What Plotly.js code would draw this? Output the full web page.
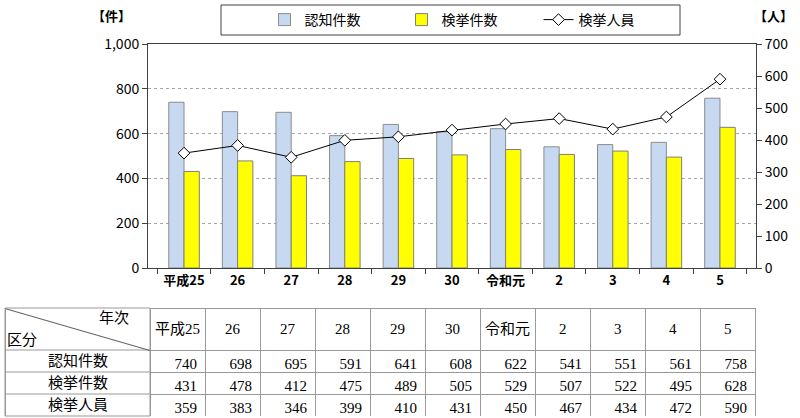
<!DOCTYPE html>
<html><head><meta charset="utf-8">
<script src="https://cdn.plot.ly/plotly-3.0.1.min.js"></script>
<style>html,body{margin:0;padding:0;background:#fff;overflow:hidden}#c{width:800px;height:418px}</style>
</head><body><div id="c"></div>
<script>
const categories = ["平成25","26","27","28","29","30","令和元","2","3","4","5"];
const ninchi = [740,698,695,591,641,608,622,541,551,561,758];
const kenkyoKen = [431,478,412,475,489,505,529,507,522,495,628];
const kenkyoJin = [359,383,346,399,410,431,450,467,434,472,590];
const rowLabels = ["認知件数","検挙件数","検挙人員"];

const W = 800, H = 418;
const mL = 5, mR = 44, mT = 44, mB = 1;
const pw = W - mL - mR, ph = H - mT - mB;
const px = x => (x - mL) / pw;
const py = y => (H - mB - y) / ph;

const font = "'Noto Sans CJK JP', 'Noto Sans', sans-serif";
const serif = "'Liberation Serif', 'Noto Sans CJK JP', serif";

const tblLeft = 5, firstW = 145, colW = 55, tblTop = 308, headH = 42, rowH = 22;
const dataLeft = tblLeft + firstW;
const tblBottom = tblTop + headH + rowH*rowLabels.length;
const lineCol = '#999';

const traces = [
  {type:'bar', name:'認知件数', x:categories, y:ninchi,
   marker:{color:'#C6D9F1', line:{color:'#8c8c8c', width:1}}},
  {type:'bar', name:'検挙件数', x:categories, y:kenkyoKen,
   marker:{color:'#FFFF00', line:{color:'#7f7f7f', width:1}}},
  {type:'scatter', mode:'lines+markers', name:'検挙人員', x:categories, y:kenkyoJin, yaxis:'y2',
   line:{color:'#000', width:1}, marker:{symbol:'diamond', size:9, color:'#fff', line:{color:'#000', width:1}}},
  {type:'table', domain:{x:[px(dataLeft), px(dataLeft + colW*categories.length)], y:[0, py(tblTop)]},
   columnwidth:categories.map(()=>colW),
   header:{values:categories.map(()=>""), height:headH, align:'center',
     line:{color:lineCol, width:1}, fill:{color:'#fff'},
     font:{family:serif, size:15, color:'#000'}},
   cells:{values:categories.map((c,i)=>[ninchi[i],kenkyoKen[i],kenkyoJin[i]]),
     height:rowH, align:'right',
     line:{color:lineCol, width:1}, fill:{color:'#fff'},
     font:{family:serif, size:15, color:'#000'}}}
];

const headerAnnots = categories.map((c,i)=>({
  text:c, xref:'paper', yref:'paper', x:px(dataLeft + colW*i + colW/2), y:py(tblTop + headH/2),
  xanchor:'center', yanchor:'middle', showarrow:false, font:{size:15, family:serif, color:'#000'}
}));
const rowAnnots = rowLabels.map((r,k)=>({
  text:r, xref:'paper', yref:'paper', x:px(tblLeft + firstW/2), y:py(tblTop + headH + rowH*k + rowH/2),
  xanchor:'center', yanchor:'middle', showarrow:false, font:{size:15, family:serif, color:'#000'}
}));

// corner-cell diagonal and left border, drawn as thin annotation boxes
const diagLen = Math.sqrt(firstW*firstW + headH*headH);
const diagAngle = Math.atan2(headH, firstW) * 180 / Math.PI;
const frameAnnots = [
  {text:' ', xref:'paper', yref:'paper', x:px(tblLeft + firstW/2), y:py(tblTop + headH/2),
   xanchor:'center', yanchor:'middle', showarrow:false, width:Math.round(diagLen), height:1,
   bgcolor:'#666', borderwidth:0, borderpad:0, textangle:diagAngle, font:{size:1}},
  {text:' ', xref:'paper', yref:'paper', x:px(tblLeft + 0.5), y:py((tblTop + tblBottom)/2),
   xanchor:'center', yanchor:'middle', showarrow:false, width:1, height:tblBottom - tblTop,
   bgcolor:lineCol, borderwidth:0, borderpad:0, font:{size:1}}
];

const firstColShapes = [
  {type:'rect', xref:'paper', yref:'paper', x0:px(tblLeft), x1:px(dataLeft), y0:py(tblTop), y1:py(tblBottom),
   line:{color:lineCol, width:1}, fillcolor:'rgba(0,0,0,0)'}
];
rowLabels.forEach((r,k) => {
  const yy = tblTop + headH + rowH*k;
  firstColShapes.push({type:'line', xref:'paper', yref:'paper',
    x0:px(tblLeft), x1:px(dataLeft), y0:py(yy), y1:py(yy), line:{color:lineCol, width:1}});
});

const layout = {
  width:W, height:H, margin:{l:mL, r:mR, t:mT, b:mB, autoexpand:false},
  paper_bgcolor:'#fff', plot_bgcolor:'rgba(0,0,0,0)',
  font:{family:font, color:'#000'},
  barmode:'group', bargap:0.43, bargroupgap:0,
  showlegend:true,
  legend:{orientation:'h', x:px(470), y:py(20), xanchor:'center', yanchor:'middle',
    bgcolor:'rgba(0,0,0,0)', borderwidth:0, font:{size:14, family:font}, entrywidth:92,
    traceorder:'normal'},
  xaxis:{domain:[px(148), 1], anchor:'y', type:'category',
    showline:true, linecolor:'#404040', linewidth:1, mirror:true,
    ticks:'outside', tickson:'boundaries', ticklen:5, tickcolor:'#404040',
    tickfont:{size:13, color:'#000', family:font, weight:'bold'}, showgrid:false},
  yaxis:{domain:[py(268), 1], range:[0,1000], dtick:200, tickformat:',',
    showline:true, linecolor:'#404040', linewidth:1,
    ticks:'outside', ticklen:5, tickcolor:'#404040',
    tickfont:{size:14, color:'#000', family:font},
    showgrid:true, gridcolor:'#a6a6a6', griddash:'dot', zeroline:false},
  yaxis2:{overlaying:'y', side:'right', range:[0,700], dtick:100,
    showline:true, linecolor:'#404040', linewidth:1,
    ticks:'outside', ticklen:5, tickcolor:'#404040',
    tickfont:{size:14, color:'#000', family:font}, showgrid:false, zeroline:false},
  annotations:[
    {text:'<b>【件】</b>', xref:'paper', yref:'paper', x:px(111), y:py(16), xanchor:'center', yanchor:'middle',
     showarrow:false, font:{size:13, family:font}},
    {text:'<b>【人】</b>', xref:'paper', yref:'paper', x:px(773), y:py(16), xanchor:'center', yanchor:'middle',
     showarrow:false, font:{size:13, family:font}},
    {text:'年次', xref:'paper', yref:'paper', x:px(114), y:py(318), xanchor:'center', yanchor:'middle',
     showarrow:false, font:{size:15, family:serif}},
    {text:'区分', xref:'paper', yref:'paper', x:px(22), y:py(340), xanchor:'center', yanchor:'middle',
     showarrow:false, font:{size:15, family:serif}}
  ].concat(frameAnnots, headerAnnots, rowAnnots),
  shapes:[
    {type:'rect', xref:'paper', yref:'paper', x0:px(221), x1:px(680), y0:py(5), y1:py(35),
     line:{color:'#404040', width:1}, fillcolor:'rgba(0,0,0,0)'}
  ].concat(firstColShapes)
};
Plotly.newPlot('c', traces, layout, {displayModeBar:false, staticPlot:true});
</script></body></html>
